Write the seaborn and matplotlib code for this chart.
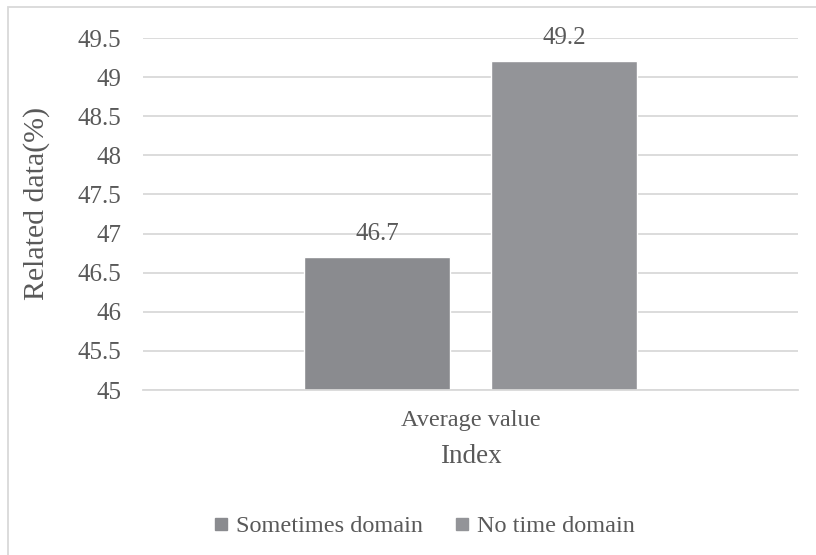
import pandas as pd
import matplotlib.pyplot as plt
import seaborn as sns
from matplotlib.patches import Rectangle
from matplotlib.lines import Line2D

sns.set_style("white")
plt.rcParams['font.family'] = ['Liberation Serif', 'DejaVu Serif']

# data
categories = ['Average value']
series = ['Sometimes domain', 'No time domain']
values = [46.7, 49.2]
colors = ['#8a8b8f', '#939498']
yticks = [45, 45.5, 46, 46.5, 47, 47.5, 48, 48.5, 49, 49.5]

df = pd.DataFrame({'Index': categories * len(series),
                   'series': series,
                   'value': values})

txt = '#595959'
fig = plt.figure(figsize=(8.16, 5.55), dpi=100)
ax = fig.add_axes([143 / 816, 1 - 390 / 555, (798 - 143) / 816, (390 - 38) / 555])

sns.barplot(data=df, x='Index', y='value', hue='series', palette=colors,
            width=0.571, gap=0.214, ax=ax, legend=False, saturation=1)

ax.set_ylim(45, 49.5)
ax.set_xlim(-0.5, 0.5)
ax.set_yticks(yticks)
ax.set_yticklabels([f'{t:g}' for t in yticks])
ax.yaxis.grid(True, color='#d9d9d9', linewidth=1.3)
ax.set_axisbelow(True)
for s in ['top', 'right', 'left']:
    ax.spines[s].set_visible(False)
ax.spines['bottom'].set_color('#d9d9d9')
ax.spines['bottom'].set_linewidth(1.3)
ax.tick_params(axis='x', length=0, colors=txt, labelsize=17.5, pad=14.5)
ax.tick_params(axis='y', length=0, colors=txt, labelsize=18, pad=15.8)

ax.set_xlabel('Index', fontsize=19.5, color=txt, labelpad=9.5)
ax.set_ylabel('')
fig.text(37 / 816, 1 - 203 / 555, 'Related data(%)', rotation=90,
         ha='center', va='center', fontsize=21.5, color=txt)

for c in ax.containers:
    ax.bar_label(c, labels=[f'{v:g}' for v in c.datavalues], padding=9,
                 fontsize=18, color=txt)

handles = [Line2D([0], [0], marker='s', linestyle='', markersize=9,
                  markerfacecolor=col, markeredgecolor=col) for col in colors]
fig.legend(handles, series, loc='center', bbox_to_anchor=(423 / 816, 1 - 526 / 555),
           ncol=2, frameon=False, fontsize=17.5, labelcolor=txt,
           handlelength=0.8, handletextpad=0.2, columnspacing=1.23,
           borderpad=0, borderaxespad=0)

fig.patches.append(Rectangle((8 / 816, -0.1), 1.2, 1 - 7 / 555 + 0.1,
                             transform=fig.transFigure, fill=False,
                             edgecolor='#d9d9d9', linewidth=1.3))

fig.savefig('out.png', dpi=100)
